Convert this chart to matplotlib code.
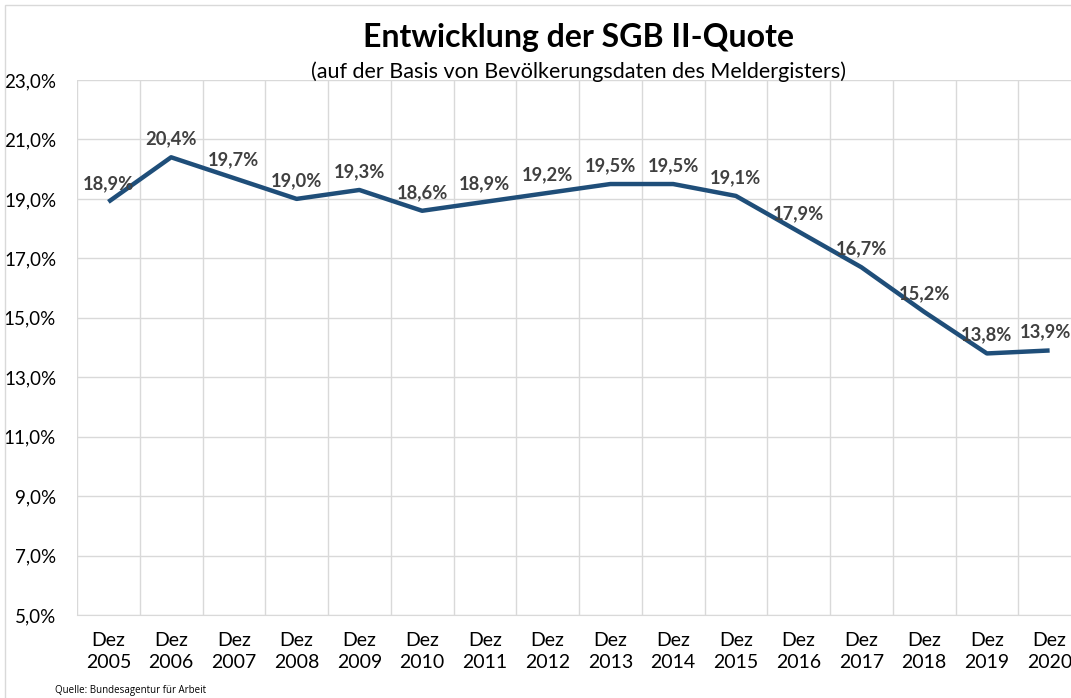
import matplotlib.pyplot as plt
from matplotlib.patches import Rectangle

# SGB II-Quote, jeweils Dezember
jahre = ["2005", "2006", "2007", "2008", "2009", "2010", "2011", "2012",
         "2013", "2014", "2015", "2016", "2017", "2018", "2019", "2020"]
quote = [18.9, 20.4, 19.7, 19.0, 19.3, 18.6, 18.9, 19.2,
         19.5, 19.5, 19.1, 17.9, 16.7, 15.2, 13.8, 13.9]
y_ticks = [5, 7, 9, 11, 13, 15, 17, 19, 21, 23]
x_labels = ["Dez\n" + j for j in jahre]

plt.rcParams["font.family"] = ["Lato", "DejaVu Sans"]

fig = plt.figure(figsize=(10.71, 6.98), dpi=100)
ax = fig.add_axes([77 / 1071, 1 - 615 / 698, 1004 / 1071, 535 / 698])

x = list(range(len(jahre)))
ax.plot(x, quote, color="#1f4e79", linewidth=3.2, solid_capstyle="butt", zorder=3)

for xi, v in zip(x, quote):
    # letztes Label etwas nach links, sonst am Rand abgeschnitten
    dx = -3 if xi == x[-1] else 0
    ax.annotate(f"{v:.1f}%".replace(".", ","), (xi, v), xytext=(dx, 7),
                textcoords="offset points", ha="center", va="bottom",
                fontsize=13.2, fontweight="bold", color="#404040")

ax.set_xlim(-0.5, len(jahre) - 0.5)
ax.set_ylim(5, 23)
ax.set_yticks(y_ticks)
ax.set_yticklabels([f"{t:.1f}%".replace(".", ",") for t in y_ticks])
ax.set_xticks(x)
ax.set_xticklabels(x_labels, linespacing=1.35)

# Gitterlinien zwischen den Kategorien
ax.set_xticks([i + 0.5 for i in x], minor=True)
ax.grid(True, which="minor", axis="x", color="#d9d9d9", linewidth=1)
ax.grid(True, which="major", axis="y", color="#d9d9d9", linewidth=1)
ax.axvline(-0.5, color="#d9d9d9", linewidth=1)
ax.set_axisbelow(True)

for s in ["top", "right", "left"]:
    ax.spines[s].set_visible(False)
ax.spines["bottom"].set_color("#d9d9d9")
ax.tick_params(axis="both", which="both", length=0, colors="#000000")
ax.tick_params(axis="y", pad=15, labelsize=13.5)
ax.tick_params(axis="x", pad=12, labelsize=14)

fig.text(0.540, 1 - 37 / 698, "Entwicklung der SGB II-Quote", ha="center", va="center",
         fontsize=23, fontweight="bold")
fig.text(0.540, 1 - 72 / 698, "(auf der Basis von Bevölkerungsdaten des Meldergisters)",
         ha="center", va="center", fontsize=15.5)
fig.text(55 / 1071, 1 - 690 / 698, "Quelle: Bundesagentur für Arbeit", ha="left", va="center",
         fontsize=7, family=["Open Sans", "DejaVu Sans"])

fig.patches.append(Rectangle((5 / 1071, -0.1), 1.2, 1 - 5 / 698 + 0.1, transform=fig.transFigure,
                             fill=False, edgecolor="#d9d9d9", linewidth=1))

fig.savefig("out.png", dpi=100)
